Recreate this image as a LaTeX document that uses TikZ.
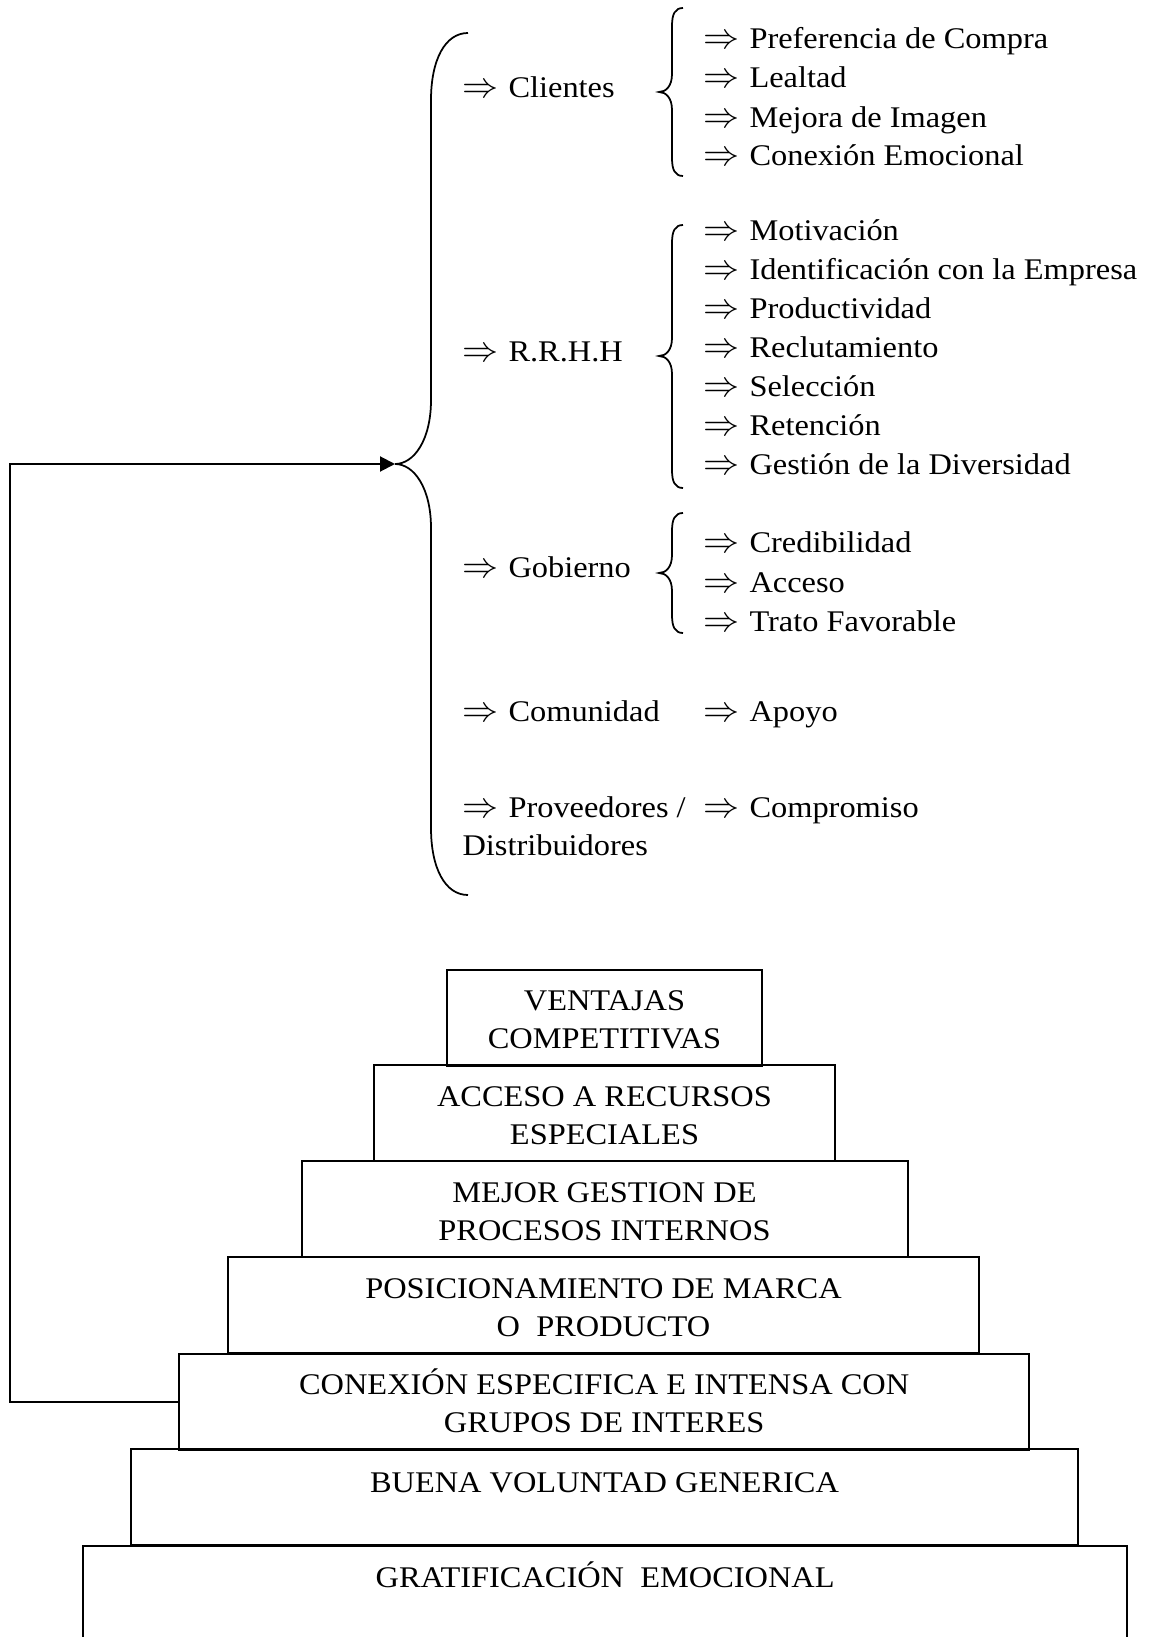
\documentclass[tikz,border=0pt]{standalone}
\usepackage{fontspec}
\setmainfont{Liberation Serif}[FakeStretch=1.08]
\usetikzlibrary{arrows.meta}
\newcommand{\imp}{{\fontsize{13.5}{13.5}\selectfont$\Rightarrow$}\hspace{4pt}}

\begin{document}
\begin{tikzpicture}[x=0.4pt, y=-0.4pt,
  font=\fontsize{12}{15.2}\selectfont,
  item/.style={anchor=base west, inner sep=0},
  caja/.style={draw, line width=0.8pt, inner sep=0, anchor=north, minimum height=38.4pt},
  rotulo/.style={anchor=base, align=center, inner sep=0},
  llave/.style={line width=0.7pt},
  flecha/.style={line width=0.8pt, -{Triangle[length=6pt,width=6pt]}}]
\useasboundingbox (0,0) rectangle (1149,1637);

% grupos de interes
\node[item] (clientes) at (462,98) {\imp Clientes};
\node[item] (rrhh) at (462,362) {\imp R.R.H.H};
\node[item] (gobierno) at (462,577) {\imp Gobierno};
\node[item] (comunidad) at (462,721) {\imp Comunidad};
\node[item] (proveedores) at (462,817) {\imp Proveedores /};
\node[item] (distribuidores) at (462,855) {Distribuidores};

% beneficios
\node[item] (preferencia) at (703,49) {\imp Preferencia de Compra};
\node[item] (lealtad) at (703,88) {\imp Lealtad};
\node[item] (imagen) at (703,128) {\imp Mejora de Imagen};
\node[item] (emocional) at (703,166) {\imp Conexión Emocional};
\node[item] (motivacion) at (703,241) {\imp Motivación};
\node[item] (identificacion) at (703,280) {\imp Identificación con la Empresa};
\node[item] (productividad) at (703,319) {\imp Productividad};
\node[item] (reclutamiento) at (703,358) {\imp Reclutamiento};
\node[item] (seleccion) at (703,397) {\imp Selección};
\node[item] (retencion) at (703,436) {\imp Retención};
\node[item] (diversidad) at (703,475) {\imp Gestión de la Diversidad};
\node[item] (credibilidad) at (703,552) {\imp Credibilidad};
\node[item] (acceso) at (703,592) {\imp Acceso};
\node[item] (trato) at (703,631) {\imp Trato Favorable};
\node[item] (apoyo) at (703,721) {\imp Apoyo};
\node[item] (compromiso) at (703,817) {\imp Compromiso};

% llaves
\draw[llave] (468,33) .. controls (445,33) and (431,60) .. (431,100) -- (431,400)
  .. controls (431,440) and (414,464) .. (395,464)
  .. controls (414,464) and (431,488) .. (431,528) -- (431,828)
  .. controls (431,868) and (445,895) .. (468,895);
\draw[llave] (683,8) .. controls (675,8) and (672,14) .. (672,26) -- (672,74)
  .. controls (672,86) and (666,92) .. (659,92)
  .. controls (666,92) and (672,98) .. (672,110) -- (672,158)
  .. controls (672,170) and (675,176) .. (683,176);
\draw[llave] (683,225) .. controls (675,225) and (672,231) .. (672,243) -- (672,338)
  .. controls (672,350) and (666,356) .. (659,356)
  .. controls (666,356) and (672,362) .. (672,374) -- (672,470)
  .. controls (672,482) and (675,488) .. (683,488);
\draw[llave] (683,513) .. controls (675,513) and (672,519) .. (672,531) -- (672,555)
  .. controls (672,567) and (666,573) .. (659,573)
  .. controls (666,573) and (672,579) .. (672,591) -- (672,615)
  .. controls (672,627) and (675,633) .. (683,633);
\coordinate (punta) at (395,464);

% piramide
\node[caja, minimum width=126pt] (ventajas) at (604.5,969) {};
\node[caja, minimum width=184.2pt] (recursos) at (604.5,1064) {};
\node[caja, minimum width=242.4pt] (procesos) at (604.5,1160) {};
\node[caja, minimum width=300.4pt] (marca) at (603.5,1256) {};
\node[caja, minimum width=339.9pt] (conexion) at (604.2,1352.5) {};
\node[caja, minimum width=378.8pt] (voluntad) at (604.5,1448) {};
\node[caja, minimum width=417.5pt, minimum height=46pt] (gratificacion) at (605.2,1544.5) {};

\node[rotulo] (tventajas) at ([yshift=-31.8pt]ventajas.north) {VENTAJAS\\COMPETITIVAS};
\node[rotulo] (trecursos) at ([yshift=-32.2pt]recursos.north) {ACCESO A RECURSOS\\ESPECIALES};
\node[rotulo] (tprocesos) at ([yshift=-32.2pt]procesos.north) {MEJOR GESTION DE\\PROCESOS INTERNOS};
\node[rotulo] (tmarca) at ([yshift=-32pt]marca.north) {POSICIONAMIENTO DE MARCA\\O\ \ PRODUCTO};
\node[rotulo] (tconexion) at ([yshift=-32pt]conexion.north) {CONEXIÓN ESPECIFICA E INTENSA CON\\GRUPOS DE INTERES};
\node[rotulo] (tvoluntad) at ([yshift=-17.6pt]voluntad.north) {BUENA VOLUNTAD GENERICA};
\node[rotulo] (tgratificacion) at ([yshift=-17pt]gratificacion.north) {GRATIFICACIÓN\ \ EMOCIONAL};

% retorno
\draw[flecha] (conexion.west) -- ++(-168.5,0) |- (punta);
\end{tikzpicture}
\end{document}
